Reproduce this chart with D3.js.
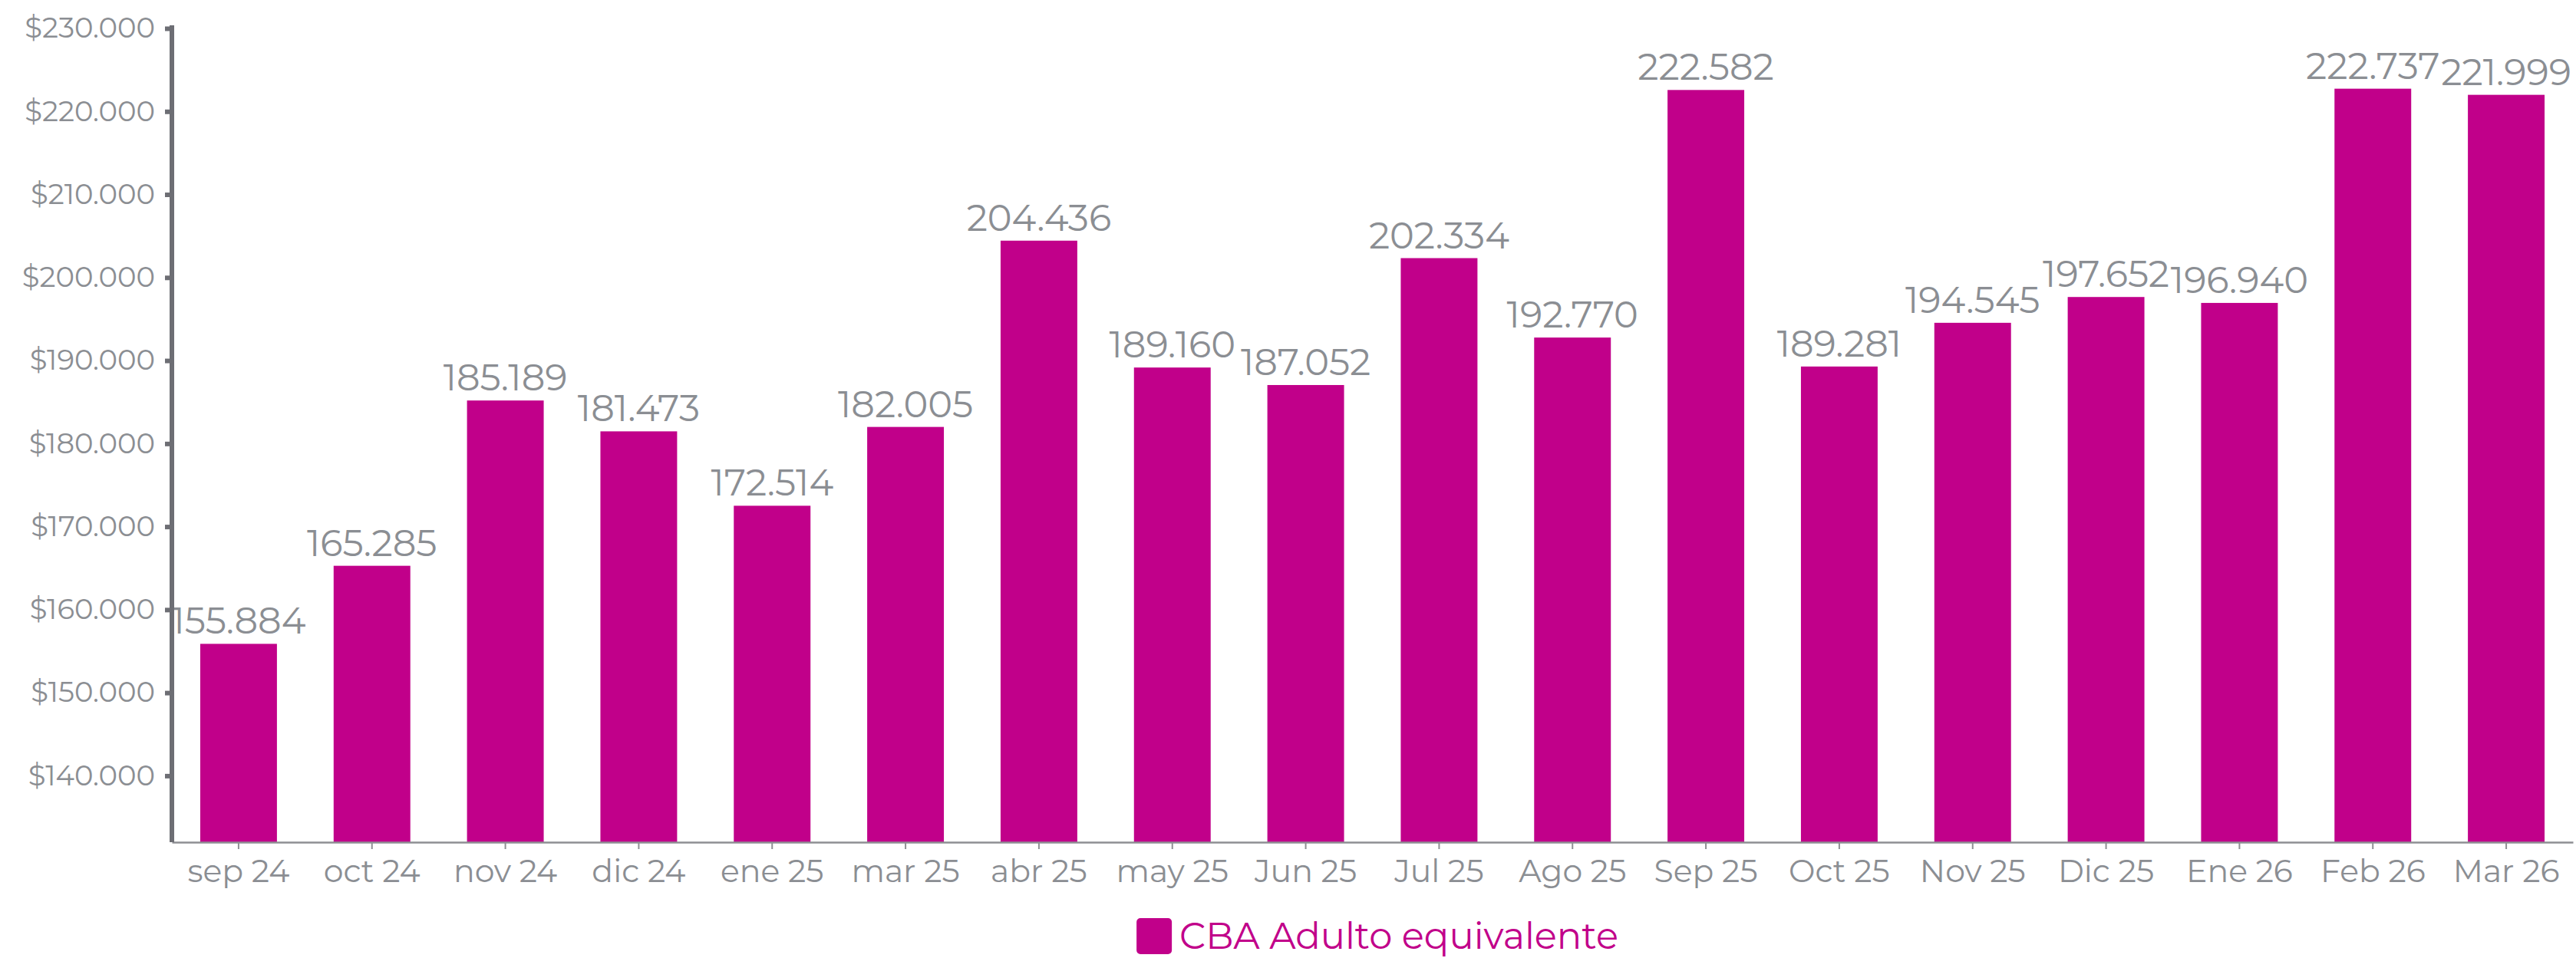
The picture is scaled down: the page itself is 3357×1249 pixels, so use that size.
<!DOCTYPE html>
<html>
<head>
<meta charset="utf-8">
<script src="https://cdn.jsdelivr.net/npm/d3@7"></script>
<style>
  html, body { margin: 0; padding: 0; background: #ffffff; }
  svg { display: block; }
  text { font-family: Montserrat, Inter, "Open Sans", sans-serif; }
</style>
</head>
<body>
<svg id="chart" width="3357" height="1249"></svg>
<script>
const categories = ["sep 24","oct 24","nov 24","dic 24","ene 25","mar 25","abr 25","may 25","Jun 25","Jul 25","Ago 25","Sep 25","Oct 25","Nov 25","Dic 25","Ene 26","Feb 26","Mar 26"];
const values = [155884,165285,185189,181473,172514,182005,204436,189160,187052,202334,192770,222582,189281,194545,197652,196940,222737,221999];
const yTicks = [140000,150000,160000,170000,180000,190000,200000,210000,220000,230000];
const seriesName = "CBA Adulto equivalente";

const W = 3357, H = 1249;
const margin = {left: 224, right: 4, top: 37, bottom: 151};
const svg = d3.select("#chart");
svg.append("rect").attr("width", W).attr("height", H).attr("fill", "#ffffff");

const locale = d3.formatLocale({decimal: ",", thousands: ".", grouping: [3], currency: ["$", ""]});
const fmtNum = locale.format(",d");
const fmtCur = locale.format("$,d");

const x = d3.scaleBand()
  .domain(categories)
  .range([margin.left, W - margin.right])
  .paddingInner(0.425)
  .paddingOuter(0.2125);

const y = d3.scaleLinear()
  .domain([132000, 230000])
  .range([H - margin.bottom, margin.top]);

const barColor = "#c1008a";
const textGray = "#8b8e93";

// bars
svg.append("g").selectAll("rect")
  .data(values)
  .join("rect")
  .attr("x", (d, i) => x(categories[i]))
  .attr("width", x.bandwidth())
  .attr("y", d => y(d))
  .attr("height", d => y(132000) - y(d))
  .attr("fill", barColor);

// value labels
svg.append("g").selectAll("text")
  .data(values)
  .join("text")
  .attr("x", (d, i) => x(categories[i]) + x.bandwidth() / 2)
  .attr("y", d => y(d) - 13)
  .attr("text-anchor", "middle")
  .attr("font-size", 48)
  .attr("fill", textGray)
  .text(d => fmtNum(d));

// x axis
const xAxis = svg.append("g")
  .attr("transform", `translate(0,${y(132000)})`)
  .call(d3.axisBottom(x).tickSizeOuter(0).tickSizeInner(9).tickPadding(14));
xAxis.select(".domain").attr("stroke", "#8e8f93").attr("stroke-width", 2.5);
xAxis.selectAll(".tick line").attr("stroke", "#8e8f93").attr("stroke-width", 2);
xAxis.selectAll(".tick text")
  .attr("font-size", 41)
  .attr("fill", textGray)
  .attr("font-family", "Montserrat, Inter, sans-serif");

// y axis
const yAxis = svg.append("g")
  .attr("transform", `translate(${margin.left},0)`)
  .call(d3.axisLeft(y).tickValues(yTicks).tickFormat(d => fmtCur(d)).tickSizeOuter(0).tickSizeInner(9).tickPadding(13));
yAxis.select(".domain")
  .attr("d", `M0,${y(230000) - 4}V${y(132000)}`)
  .attr("stroke", "#6d6e74").attr("stroke-width", 6);
yAxis.selectAll(".tick line").attr("stroke", "#6d6e74").attr("stroke-width", 6);
yAxis.selectAll(".tick text")
  .attr("font-size", 37)
  .attr("fill", textGray)
  .attr("font-family", "Montserrat, Inter, sans-serif");

// legend
const leg = svg.append("g");
leg.append("rect")
  .attr("x", 0).attr("y", -40).attr("width", 46).attr("height", 47)
  .attr("rx", 5).attr("fill", barColor);
const lt = leg.append("text")
  .attr("x", 56).attr("y", 0)
  .attr("font-size", 48)
  .attr("fill", barColor)
  .text(seriesName);
const lw = 56 + lt.node().getComputedTextLength();
const cx = 1795;
leg.attr("transform", `translate(${cx - lw / 2},1237)`);
</script>
</body>
</html>
